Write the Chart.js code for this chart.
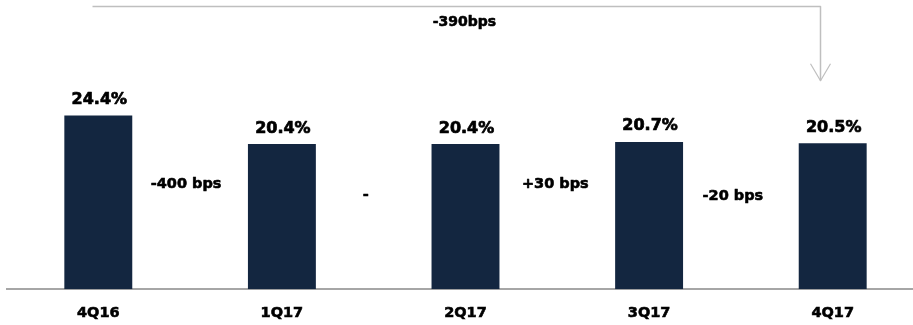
<!DOCTYPE html>
<html>
<head>
<meta charset="utf-8">
<script src="https://cdn.jsdelivr.net/npm/chart.js@4.4.1/dist/chart.umd.min.js"></script>
<style>
  html, body { margin: 0; padding: 0; background: #ffffff; overflow: hidden; }
  #wrap { width: 926px; height: 325px; }
</style>
</head>
<body>
<div id="wrap"><canvas id="c" width="926" height="325"></canvas></div>
<script>
// Quarterly margin (%) and the change between consecutive quarters
const quarters = ['4Q16', '1Q17', '2Q17', '3Q17', '4Q17'];
const margins = [24.4, 20.4, 20.4, 20.7, 20.5];
const valueLabels = ['24.4%', '20.4%', '20.4%', '20.7%', '20.5%'];
const stepLabels = ['-400 bps', '-', '+30 bps', '-20 bps'];
const totalLabel = '-390bps';

const NAVY = '#132640';
const FONT = '"DejaVu Sans", Verdana, sans-serif';

// Where the step labels sit: value level on the y scale and a small x nudge
const stepPlacement = [
  { level: 14.7, dx: -4 },
  { level: 13.2, dx: -8 },
  { level: 14.7, dx: -2 },
  { level: 13.1, dx: -8 }
];

// heavy text: fill plus a thin outline in the same colour
function heavyText(ctx, txt, x, y, w) {
  ctx.lineWidth = w;
  ctx.strokeStyle = '#000000';
  ctx.lineJoin = 'round';
  ctx.strokeText(txt, x, y);
  ctx.fillText(txt, x, y);
}

const annotations = {
  id: 'annotations',
  afterDatasetsDraw(chart) {
    const ctx = chart.ctx;
    const meta = chart.getDatasetMeta(0);
    const y = chart.scales.y;
    ctx.save();
    ctx.fillStyle = '#000000';
    ctx.textAlign = 'center';

    // value above each bar
    ctx.font = 'bold 16px ' + FONT;
    ctx.textBaseline = 'alphabetic';
    meta.data.forEach((bar, i) => {
      heavyText(ctx, valueLabels[i], bar.x + 1, bar.y - 11.5, 0.7);
    });

    // step changes between neighbouring bars
    ctx.font = 'bold 14.5px ' + FONT;
    ctx.textBaseline = 'middle';
    stepLabels.forEach((txt, i) => {
      const mx = (meta.data[i].x + meta.data[i + 1].x) / 2 + stepPlacement[i].dx;
      heavyText(ctx, txt, mx, y.getPixelForValue(stepPlacement[i].level), 0.6);
    });

    // overall change: bracket arrow from the first to the last quarter
    const first = meta.data[0];
    const last = meta.data[meta.data.length - 1];
    const x0 = Math.round(first.x - 6) + 0.5;
    const x1 = Math.round(last.x - 13) + 0.5;
    const yTop = Math.round(y.getPixelForValue(39.8)) + 0.5;
    const yTip = y.getPixelForValue(29.3);
    ctx.strokeStyle = '#bfbfbf';
    ctx.lineWidth = 1.5;
    ctx.beginPath();
    ctx.moveTo(x0, yTop);
    ctx.lineTo(x1, yTop);
    ctx.lineTo(x1, yTip);
    ctx.stroke();
    ctx.lineWidth = 1.2;
    ctx.beginPath();
    ctx.moveTo(x1 - 10, yTip - 17);
    ctx.lineTo(x1, yTip);
    ctx.lineTo(x1 + 10, yTip - 17);
    ctx.stroke();

    ctx.font = 'bold 14px ' + FONT;
    heavyText(ctx, totalLabel, meta.data[2].x - 1, y.getPixelForValue(37.5), 0.6);
    ctx.restore();
  }
};

new Chart(document.getElementById('c'), {
  type: 'bar',
  data: {
    labels: quarters,
    datasets: [{
      data: margins,
      backgroundColor: NAVY,
      borderWidth: 0,
      barPercentage: 0.37,
      categoryPercentage: 1.0
    }]
  },
  options: {
    responsive: false,
    animation: false,
    devicePixelRatio: 1,
    layout: { padding: { left: 6.5, right: 1.5, top: 4.5, bottom: 0 } },
    plugins: { legend: { display: false }, tooltip: { enabled: false } },
    scales: {
      y: { display: false, min: 0, max: 40 },
      x: {
        grid: { display: false, drawTicks: false },
        border: { display: true, color: '#a6a6a6', width: 2 },
        ticks: {
          color: '#000000',
          font: { family: FONT, size: 14.5, weight: 'bold' },
          textStrokeColor: '#000000',
          textStrokeWidth: 0.6,
          padding: 15,
          maxRotation: 0
        },
        afterFit(scale) { scale.height = 35.7; }
      }
    }
  },
  plugins: [annotations]
});
</script>
</body>
</html>
